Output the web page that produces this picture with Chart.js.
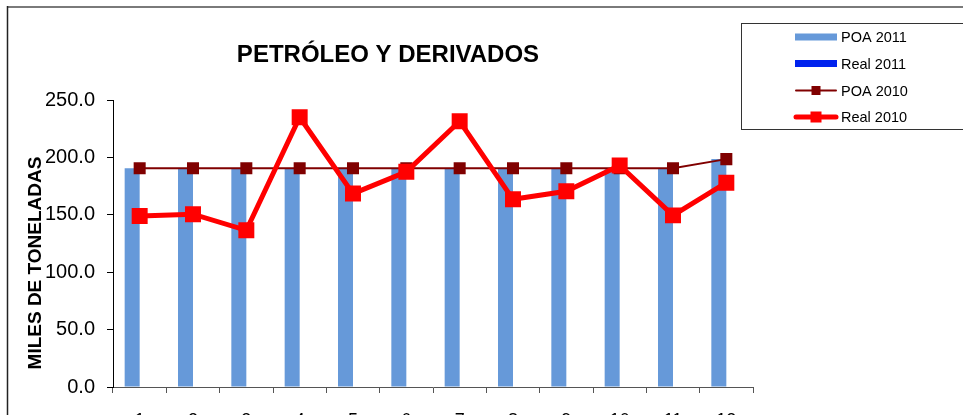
<!DOCTYPE html>
<html>
<head>
<meta charset="utf-8">
<script src="https://cdn.jsdelivr.net/npm/chart.js@4"></script>
<style>
  html, body { margin: 0; padding: 0; background: #ffffff; }
  #wrap { width: 963px; height: 415px; position: relative; overflow: hidden; }
</style>
</head>
<body>
<div id="wrap"><canvas id="c" width="963" height="415"></canvas></div>
<script>
const categories = ['1','2','3','4','5','6','7','8','9','10','11','12'];
const poa2011 = [190.5,190.5,190.5,190.5,190.5,190.5,190.5,190.5,190.5,190.5,190.5,198.5];
const real2011 = [null,null,null,null,null,null,null,null,null,null,null,null];
const poa2010 = [190.5,190.5,190.5,190.5,190.5,190.5,190.5,190.5,190.5,190.5,190.5,198.5];
const real2010 = [149,150.5,136.5,235,168.5,187.5,231.5,163.5,170.5,193,149.5,178];
const yTicks = [0,50,100,150,200,250];
const titleText = 'PETRÓLEO Y DERIVADOS';
const yTitleText = 'MILES DE TONELADAS';

const FONT = '"Liberation Sans", Arial, sans-serif';

const decor = {
  id: 'decor',
  beforeDraw(chart) {
    const ctx = chart.ctx;
    ctx.save();
    ctx.fillStyle = '#fff';
    ctx.fillRect(0, 0, chart.width, chart.height);
    ctx.strokeStyle = '#7a7a7a';
    ctx.lineWidth = 2;
    ctx.beginPath(); ctx.moveTo(7, 7); ctx.lineTo(chart.width + 5, 7); ctx.stroke();
    ctx.strokeStyle = '#222';
    ctx.lineWidth = 1.5;
    ctx.beginPath(); ctx.moveTo(7.5, 6); ctx.lineTo(7.5, chart.height + 5); ctx.stroke();
    ctx.restore();
  },
  afterDraw(chart) {
    const ctx = chart.ctx;
    ctx.save();
    ctx.fillStyle = '#000';
    ctx.font = 'bold 24px ' + FONT;
    ctx.textAlign = 'center';
    ctx.textBaseline = 'alphabetic';
    ctx.fillText(titleText, 388, 62);
    ctx.translate(36, 263);
    ctx.rotate(-Math.PI / 2);
    ctx.font = 'bold 19px ' + FONT;
    ctx.textBaseline = 'middle';
    ctx.fillText(yTitleText, 0, 0);
    ctx.restore();

    ctx.save();
    ctx.strokeStyle = '#333';
    ctx.lineWidth = 1;
    ctx.fillStyle = '#fff';
    ctx.fillRect(741.5, 23.5, 240, 106);
    ctx.strokeRect(741.5, 23.5, 240, 106);
    const rows = [37, 63.5, 90.5, 117];
    chart.data.datasets.forEach((ds, i) => {
      const cy = rows[i];
      if (ds.type === 'bar') {
        ctx.fillStyle = ds.backgroundColor;
        ctx.fillRect(795, cy - 3.5, 42, 7);
      } else {
        ctx.strokeStyle = ds.borderColor;
        ctx.lineWidth = ds.legendLine;
        ctx.lineCap = 'round';
        ctx.beginPath(); ctx.moveTo(796, cy); ctx.lineTo(836, cy); ctx.stroke();
        ctx.fillStyle = ds.pointBackgroundColor;
        const s = ds.legendMarker;
        ctx.fillRect(816 - s / 2, cy - s / 2, s, s);
      }
      ctx.fillStyle = '#000';
      ctx.font = '14.5px ' + FONT;
      ctx.textAlign = 'left';
      ctx.textBaseline = 'middle';
      ctx.fillText(ds.label, 841, cy + 1);
    });
    ctx.restore();
  }
};

new Chart(document.getElementById('c'), {
  data: {
    labels: categories,
    datasets: [
      { type: 'bar', label: 'POA 2011', data: poa2011, backgroundColor: '#6699D9', order: 3,
        barPercentage: 1.0, categoryPercentage: 0.5625 },
      { type: 'bar', label: 'Real 2011', data: real2011, backgroundColor: '#0022EE', order: 4,
        barPercentage: 1.0, categoryPercentage: 0.5625 },
      { type: 'line', label: 'POA 2010', data: poa2010, borderColor: '#800000', borderWidth: 2,
        pointStyle: 'rect', pointRadius: 8.5, pointBackgroundColor: '#800000', pointBorderColor: '#800000',
        pointBorderWidth: 0, tension: 0, order: 2, legendLine: 2, legendMarker: 9 },
      { type: 'line', label: 'Real 2010', data: real2010, borderColor: '#FF0000', borderWidth: 5,
        pointStyle: 'rect', pointRadius: 11.3, pointBackgroundColor: '#FF0000', pointBorderColor: '#FF0000',
        pointBorderWidth: 0, tension: 0, order: 1, legendLine: 5, legendMarker: 11 }
    ]
  },
  options: {
    responsive: false,
    devicePixelRatio: 1,
    animation: false,
    layout: { padding: { left: 0, top: 100, right: 210, bottom: 0 } },
    plugins: { legend: { display: false }, title: { display: false }, tooltip: { enabled: false } },
    scales: {
      x: {
        type: 'category',
        offset: true,
        grid: { display: true, drawOnChartArea: false, drawTicks: true, tickLength: 6, offset: true, color: '#555' },
        border: { display: true, color: '#555', width: 1 },
        ticks: { color: '#000', font: { family: FONT, size: 18 }, padding: 17, maxRotation: 0, autoSkip: false },
        afterFit(scale) { scale.height = 28; }
      },
      y: {
        min: 0, max: 250,
        afterBuildTicks(scale) { scale.ticks = yTicks.map(v => ({ value: v })); },
        grid: { display: true, drawOnChartArea: false, drawTicks: true, tickLength: 6, color: '#000' },
        border: { display: true, color: '#000', width: 1 },
        ticks: { color: '#000', font: { family: FONT, size: 20 }, padding: 12,
          callback: v => Number(v).toFixed(1) },
        afterFit(scale) { scale.width = 113; }
      }
    }
  },
  plugins: [decor]
});
</script>
</body>
</html>
